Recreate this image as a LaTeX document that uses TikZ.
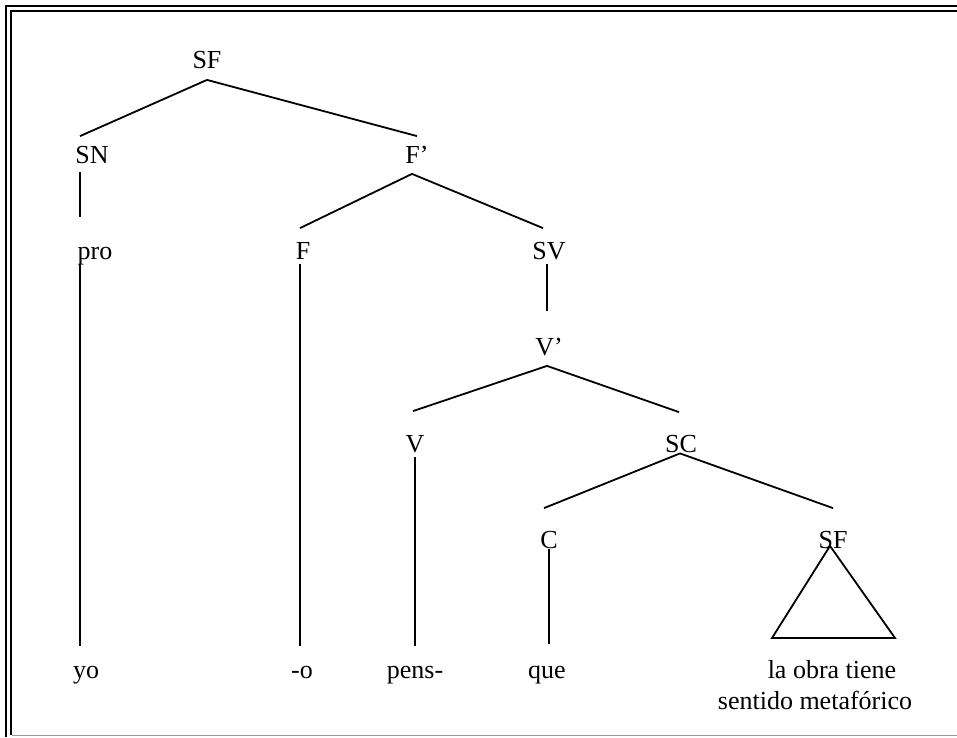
\documentclass[tikz,border=0pt]{standalone}
\usepackage{fontspec}
\setmainfont{Liberation Serif}
\begin{document}
\begin{tikzpicture}[x=1pt,y=-1pt,line width=1.8pt,
	kat/.style={anchor=base,inner sep=0pt,text height=17pt,text depth=0pt,font=\fontsize{26}{31}\selectfont}]
		
		\useasboundingbox (0,0) rectangle (957,737);
		
		% Rahmen
		\draw (6,737) -- (6,6) -- (957,6);
		\draw (11,735) -- (11,11) -- (957,11);
		\draw[black!40] (12,735.5) -- (957,735.5);
		
		% Kategorien
		\node[kat] (sf) at (207,68.5) {SF};
		\node[kat] (sn) at (92,163.5) {SN};
		\node[kat] (fbar) at (417,163.5) {F’};
		\node[kat] (pro) at (95,259.5) {pro};
		\node[kat] (f) at (303,259.5) {F};
		\node[kat] (sv) at (549,259.5) {SV};
		\node[kat] (vbar) at (549,355.5) {V’};
		\node[kat] (v) at (415,452.5) {V};
		\node[kat] (sc) at (681,452.5) {SC};
		\node[kat] (c) at (549,548.5) {C};
		\node[kat] (sfb) at (833,548.5) {SF};
		
		% Woerter
		\node[kat] (yo) at (86,678) {yo};
		\node[kat] (o) at (302,678) {-o};
		\node[kat] (pens) at (415,678) {pens-};
		\node[kat] (que) at (547,678) {que};
		\node[kat] (obra) at (832,678) {la obra tiene};
		\node[kat] (sent) at (815,709) {sentido metafórico};
		
		% Aeste
		\draw ([yshift=-10.5pt]sf.south) -- ([xshift=-12pt,yshift=9.5pt]sn.north);
		\draw ([yshift=-10.5pt]sf.south) -- ([yshift=9.5pt]fbar.north);
		\draw ([xshift=-12pt,yshift=-7.5pt]sn.south) -- ([xshift=-15pt,yshift=24.5pt]pro.north);
		\draw ([xshift=-5pt,yshift=-9.5pt]fbar.south) -- ([xshift=-3pt,yshift=13.5pt]f.north);
		\draw ([xshift=-5pt,yshift=-9.5pt]fbar.south) -- ([xshift=-6pt,yshift=13.5pt]sv.north);
		\draw ([xshift=-2pt,yshift=-3.5pt]sv.south) -- ([xshift=-2pt,yshift=26.5pt]vbar.north);
		\draw ([xshift=-2pt,yshift=-9.5pt]vbar.south) -- ([xshift=-2pt,yshift=23.5pt]v.north);
		\draw ([xshift=-2pt,yshift=-9.5pt]vbar.south) -- ([xshift=-2pt,yshift=22.5pt]sc.north);
		\draw ([xshift=-1pt]sc.south) -- ([xshift=-5pt,yshift=22.5pt]c.north);
		\draw ([xshift=-1pt]sc.south) -- ([yshift=22.5pt]sfb.north);
		
		% Senkrechte Linien zu den Woertern
		\draw ([xshift=-15pt,yshift=-3.5pt]pro.south) -- ([xshift=-6pt,yshift=14pt]yo.north);
		\draw ([xshift=-3pt,yshift=-3.5pt]f.south) -- ([xshift=-2pt,yshift=14pt]o.north);
		\draw ([yshift=-3.5pt]v.south) -- ([yshift=14pt]pens.north);
		\draw (c.south) -- ([xshift=2pt,yshift=16pt]que.north);
		
		% Dreieck
		\coordinate (dl) at (772,638);
		\coordinate (dr) at (895,638);
		\draw[line join=miter] ([xshift=-3pt,yshift=3.5pt]sfb.south) -- (dl) -- (dr) -- cycle;
		
	\end{tikzpicture}
\end{document}
